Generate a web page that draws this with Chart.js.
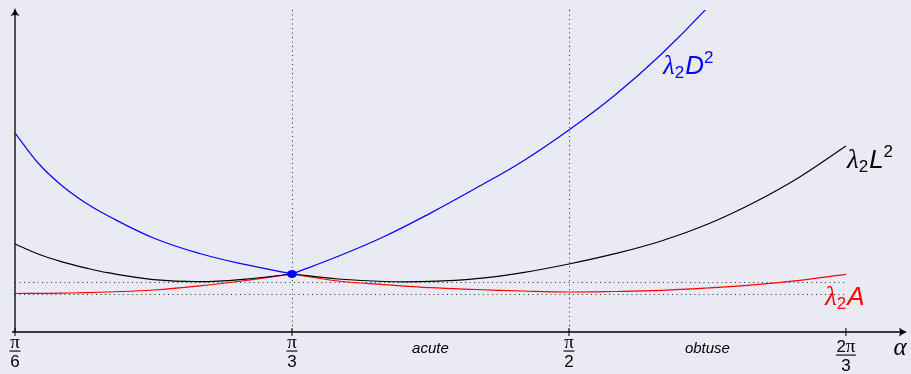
<!DOCTYPE html>
<html>
<head>
<meta charset="utf-8">
<script src="https://cdn.jsdelivr.net/npm/chart.js@4.4.1/dist/chart.umd.min.js"></script>
<style>
  html, body { margin: 0; padding: 0; background: #eaeaf4; }
  #wrap { width: 911px; height: 374px; }
</style>
</head>
<body>
<div id="wrap"><canvas id="angleChart" width="911" height="374"></canvas></div>
<script>
// angles in degrees: pi/6 .. pi/3 (left branch), pi/3 .. 2pi/3 (right branch)
const leftAngles  = [30, 32.5, 35, 37.5, 40, 45, 50, 55, 60];
const rightAngles = [60, 65, 70, 75, 80, 85, 90, 95, 100, 105, 110, 115, 120];

const blueLeft   = [1.99, 1.69, 1.47, 1.30, 1.165, 0.94, 0.785, 0.673, 0.58];
const blueRight  = [0.58, 0.757, 0.955, 1.189, 1.442, 1.708, 2.02, 2.37, 2.778, 3.244, 3.77, null, null];
const blackLeft  = [0.88, 0.78, 0.704, 0.644, 0.593, 0.524, 0.503, 0.529, 0.58];
const blackRight = [0.58, 0.53, 0.505, 0.506, 0.533, 0.594, 0.68, 0.783, 0.91, 1.078, 1.293, 1.551, 1.86];
const redLeft    = [0.385, 0.386, 0.388, 0.393, 0.40, 0.42, 0.461, 0.515, 0.58];
const redRight   = [0.58, 0.51, 0.474, 0.443, 0.425, 0.41, 0.40, 0.405, 0.416, 0.44, 0.472, 0.517, 0.577];

const tickAngles = [30, 60, 90, 120];
const tickNum = ['π', 'π', 'π', '2π'];
const tickDen = ['6', '3', '2', '3'];
const regionAngles = [75, 105];
const regionLabels = ['acute', 'obtuse'];
const guideAngles = [60, 90];      // dotted verticals
const guideLevels = [0.50, 0.38];  // dotted horizontals
const meetPoint = { x: 60, y: 0.58 };

const X_MIN = 30, X_MAX = 126.4, Y_MIN = 0, Y_MAX = 3.22;

function toPoints(angles, vals) {
    return angles.map((a, i) => ({ x: a, y: vals[i] }));
}

function drawRich(ctx, x, y, parts, color) {
    ctx.fillStyle = color;
    ctx.textBaseline = 'alphabetic';
    ctx.textAlign = 'left';
    parts.forEach(p => {
        ctx.font = p.font;
        ctx.fillText(p.t, x, y + (p.dy || 0));
        x += ctx.measureText(p.t).width + (p.gap || 0);
    });
}

function arrowHead(ctx, x, y, dir) {
    ctx.save();
    ctx.translate(x, y);
    if (dir === 'up') ctx.rotate(-Math.PI / 2);
    ctx.beginPath();
    ctx.moveTo(0, 0);
    ctx.quadraticCurveTo(-4, -1, -8, -4.5);
    ctx.quadraticCurveTo(-6, 0, -8, 4.5);
    ctx.quadraticCurveTo(-4, 1, 0, 0);
    ctx.closePath();
    ctx.fillStyle = '#000';
    ctx.fill();
    ctx.restore();
}

const SERIF_IT = 'italic 27px "Liberation Serif"';
const SANS_IT = 'italic 26px "Liberation Sans"';
const SUB = '17px "Liberation Sans"';
const PI_FONT = '19px "Liberation Serif"';
const DIGIT_FONT = '17px "Liberation Sans"';

const decorPlugin = {
    id: 'decor',
    beforeDatasetsDraw(chart) {
        const ctx = chart.ctx;
        const xs = chart.scales.x, ys = chart.scales.y;
        const y0 = ys.getPixelForValue(0);
        const x0 = xs.getPixelForValue(X_MIN);
        ctx.save();
        // dotted guides
        ctx.strokeStyle = '#333';
        ctx.lineWidth = 1;
        ctx.setLineDash([1, 3.5]);
        guideAngles.forEach(a => {
            const px = Math.round(xs.getPixelForValue(a)) + 0.5;
            ctx.beginPath();
            ctx.moveTo(px, ys.getPixelForValue(Y_MAX));
            ctx.lineTo(px, y0);
            ctx.stroke();
        });
        guideLevels.forEach(v => {
            const py = Math.round(ys.getPixelForValue(v)) + 0.5;
            ctx.beginPath();
            ctx.moveTo(x0, py);
            ctx.lineTo(xs.getPixelForValue(120), py);
            ctx.stroke();
        });
        ctx.setLineDash([]);

        // axes
        ctx.strokeStyle = '#000';
        ctx.lineWidth = 1.3;
        ctx.beginPath();
        ctx.moveTo(x0 - 3, y0);
        ctx.lineTo(chart.chartArea.right, y0);
        ctx.moveTo(x0, y0);
        ctx.lineTo(x0, chart.chartArea.top);
        ctx.stroke();
        arrowHead(ctx, chart.chartArea.right + 2, y0, 'right');
        arrowHead(ctx, x0, chart.chartArea.top - 2, 'up');

        // tick marks + fraction labels
        ctx.lineWidth = 1;
        tickAngles.forEach((a, i) => {
            const px = xs.getPixelForValue(a);
            ctx.beginPath();
            ctx.moveTo(px, y0 - 4);
            ctx.lineTo(px, y0 + 4);
            ctx.stroke();
            const wide = tickNum[i].length > 1;
            const shift = wide ? 4 : 0;
            ctx.fillStyle = '#000';
            ctx.textBaseline = 'alphabetic';
            if (wide) {
                ctx.font = DIGIT_FONT;
                const w2 = ctx.measureText('2').width;
                ctx.font = PI_FONT;
                const wp = ctx.measureText('π').width;
                const sx = px - (w2 + wp) / 2;
                ctx.textAlign = 'left';
                ctx.font = DIGIT_FONT;
                ctx.fillText('2', sx, 348 + shift);
                ctx.font = PI_FONT;
                ctx.fillText('π', sx + w2, 348 + shift);
            } else {
                ctx.textAlign = 'center';
                ctx.font = PI_FONT;
                ctx.fillText(tickNum[i], px, 348 + shift);
            }
            const bw = wide ? 20 : 11;
            ctx.fillRect(px - bw / 2, 350.5 + shift, bw, 1.1);
            ctx.textAlign = 'center';
            ctx.font = DIGIT_FONT;
            ctx.fillText(tickDen[i], px, 367 + shift);
        });

        // region labels
        ctx.font = 'italic 15px "Liberation Sans"';
        ctx.textAlign = 'center';
        ctx.textBaseline = 'middle';
        regionAngles.forEach((a, i) => {
            ctx.fillText(regionLabels[i], xs.getPixelForValue(a), 349);
        });

        // alpha
        ctx.font = 'italic 25px "Liberation Serif"';
        ctx.textAlign = 'center';
        ctx.textBaseline = 'alphabetic';
        ctx.fillText('α', 900, 355);
        ctx.restore();
    },
    afterDatasetsDraw(chart) {
        const ctx = chart.ctx;
        const xs = chart.scales.x, ys = chart.scales.y;
        ctx.save();
        ctx.fillStyle = '#0000ff';
        ctx.beginPath();
        ctx.ellipse(xs.getPixelForValue(meetPoint.x), ys.getPixelForValue(meetPoint.y), 5, 4, 0, 0, Math.PI * 2);
        ctx.fill();

        drawRich(ctx, 663, 74, [
            { t: 'λ', font: SERIF_IT },
            { t: '2', font: SUB, dy: 4, gap: 1 },
            { t: 'D', font: SANS_IT },
            { t: '2', font: SUB, dy: -11 }
        ], '#0000ff');
        drawRich(ctx, 847, 168, [
            { t: 'λ', font: SERIF_IT },
            { t: '2', font: SUB, dy: 4, gap: 1 },
            { t: 'L', font: SANS_IT },
            { t: '2', font: SUB, dy: -11 }
        ], '#000');
        drawRich(ctx, 825, 305, [
            { t: 'λ', font: SERIF_IT },
            { t: '2', font: SUB, dy: 4, gap: 1 },
            { t: 'A', font: SANS_IT }
        ], '#ff0000');
        ctx.restore();
    }
};

function curve(label, angles, vals, color) {
    return {
        label: label,
        data: toPoints(angles, vals),
        borderColor: color,
        borderWidth: 1.2,
        pointRadius: 0,
        fill: false,
        tension: 0.4,
        spanGaps: false
    };
}

new Chart(document.getElementById('angleChart'), {
    type: 'line',
    data: {
        datasets: [
            curve('λ2 L² (left)', leftAngles, blackLeft, '#000000'),
            curve('λ2 L² (right)', rightAngles, blackRight, '#000000'),
            curve('λ2 A (left)', leftAngles, redLeft, '#ff0000'),
            curve('λ2 A (right)', rightAngles, redRight, '#ff0000'),
            curve('λ2 D² (left)', leftAngles, blueLeft, '#0000ff'),
            curve('λ2 D² (right)', rightAngles, blueRight, '#0000ff')
        ]
    },
    options: {
        responsive: false,
        animation: false,
        devicePixelRatio: 1,
        layout: { padding: { left: 15, right: 6, top: 10, bottom: 42 } },
        scales: {
            x: { type: 'linear', min: X_MIN, max: X_MAX, display: false },
            y: { type: 'linear', min: Y_MIN, max: Y_MAX, display: false }
        },
        plugins: {
            legend: { display: false },
            tooltip: { enabled: false }
        }
    },
    plugins: [decorPlugin]
});
</script>
</body>
</html>
